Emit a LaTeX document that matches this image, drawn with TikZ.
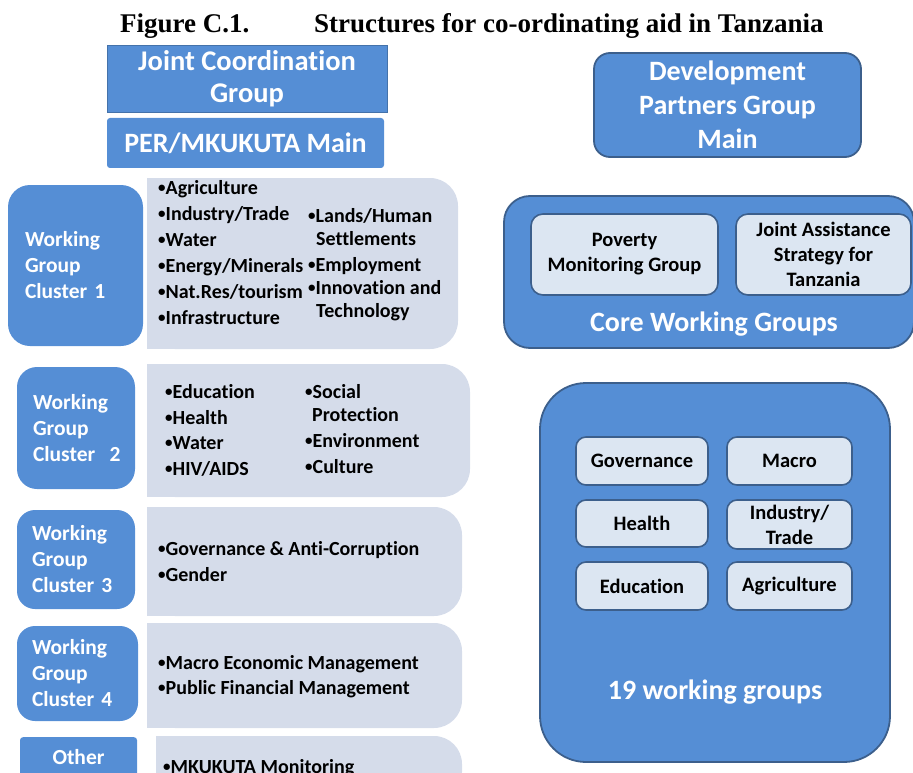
\documentclass[tikz,border=0pt]{standalone}
\usepackage{fontspec}
\setmainfont{Carlito}[Ligatures=NoCommon]
\newfontfamily\titlefont{Liberation Serif}
\newcommand\blt{\raisebox{0.1em}{\scalebox{0.75}{\textbullet}}}
\definecolor{wgblue}{RGB}{85,142,213}
\definecolor{wgedge}{RGB}{60,95,140}
\definecolor{panelgrey}{RGB}{213,220,234}
\definecolor{innerfill}{RGB}{220,230,242}
\tikzset{
  bluebox/.style={fill=wgblue, text=white, align=center, inner sep=0pt},
  clusterbox/.style={bluebox, rounded corners=22pt, align=left,
    font=\bfseries\fontsize{21.5}{26}\selectfont},
  bigbox/.style={bluebox, draw=wgedge, line width=1.8pt},
  smallbox/.style={fill=innerfill, draw=wgedge, line width=1.6pt, rounded corners=10pt,
    align=center, inner sep=0pt, font=\bfseries\fontsize{20.5}{25}\selectfont},
  items/.style={anchor=base west, align=left, inner sep=0pt,
    font=\bfseries\fontsize{20}{26}\selectfont},
}
\begin{document}
\begin{tikzpicture}[x=1pt, y=-1pt]
\useasboundingbox (0,0) rectangle (913,773);
% Titel
\node[anchor=base west, inner sep=0pt, font=\titlefont\bfseries\fontsize{27}{30}\selectfont] (fig) at (120,33) {Figure C.1.};
\node[anchor=base west, inner sep=0pt, font=\titlefont\bfseries\fontsize{27}{30}\selectfont] (caption) at (314,33) {Structures for co-ordinating aid in Tanzania};
% Regering links
\node[bluebox, draw=wgblue!80!black, minimum width=280pt, minimum height=67pt,
  font=\bfseries\fontsize{28.5}{32}\selectfont] (jcg) at (247,78.5) {Joint Coordination\\Group};
\node[bluebox, rounded corners=3pt, minimum width=277pt, minimum height=50pt,
  font=\bfseries\fontsize{28}{32}\selectfont] (per) at (245.5,143) {PER/MKUKUTA Main};
% Panelen
\foreach \xa/\ya/\xb/\yb in {147/178/458/349, 147/364/470/497, 147/507/462/616, 147/623/462/728, 156/736/462/800} {
  \fill[panelgrey, rounded corners=28pt] (\xa,\ya) rectangle (\xb,\yb);
  \fill[panelgrey] (\xa,\ya) rectangle (\xa+40,\yb);
}
% Clusters
\node[clusterbox, minimum width=135pt, minimum height=161pt, text width=101pt] (wg1) at (75.5,265.5) {Working\\Group\\Cluster 1};
\node[clusterbox, rounded corners=20pt, minimum width=118pt, minimum height=122pt, text width=86pt] (wg2) at (76,428) {Working\\Group\\\mbox{Cluster\ \ 2}};
\node[clusterbox, rounded corners=18pt, minimum width=118pt, minimum height=99pt, text width=88pt] (wg3) at (76,559.5) {Working\\Group\\Cluster 3};
\node[clusterbox, rounded corners=18pt, minimum width=121pt, minimum height=95pt, text width=91pt] (wg4) at (77.5,673.5) {Working\\Group\\Cluster 4};
\node[clusterbox, align=center, rounded corners=3pt, minimum width=117pt, minimum height=40pt, anchor=north] (other) at (78.5,737) {Other};
% Werkgroepen per cluster (ankerpunt = basislijn van de laatste regel)
\node[items] (c1a) at (158,324) {\blt Agriculture\\\blt Industry/Trade\\\blt Water\\\blt Energy/Minerals\\\blt Nat.Res/tourism\\\blt Infrastructure};
\node[items, font=\bfseries\fontsize{20}{23}\selectfont] (c1b) at (308,317) {\blt Lands/Human\\\hspace*{8pt}Settlements\\[3pt]\blt Employment\\\blt Innovation and\\\hspace*{8pt}Technology};
\node[items, font=\bfseries\fontsize{20}{25.5}\selectfont] (c2a) at (165,475) {\blt Education\\\blt Health\\\blt Water\\\blt HIV/AIDS};
\node[items, font=\bfseries\fontsize{20}{23}\selectfont] (c2b) at (305,473) {\blt Social\\\hspace*{7pt}Protection\\[3pt]\blt Environment\\[3pt]\blt Culture};
\node[items] (c3) at (158,581) {\blt Governance \& Anti-Corruption\\\blt Gender};
\node[items, font=\bfseries\fontsize{20}{25}\selectfont] (c4) at (158,694) {\blt Macro Economic Management\\\blt Public Financial Management};
\node[items] (c5) at (163,773) {\blt MKUKUTA Monitoring};
% Donoren rechts
\node[bigbox, rounded corners=16pt, minimum width=267pt, minimum height=104pt,
  font=\bfseries\fontsize{28}{34}\selectfont] (dpg) at (727.5,105) {Development\\Partners Group\\Main};
\node[bigbox, rounded corners=26pt, minimum width=410pt, minimum height=152pt] (core) at (709,272) {};
\node[smallbox, rounded corners=12pt, minimum width=187pt, minimum height=81pt] (pmg) at (624.5,254.5) {Poverty\\Monitoring Group};
\node[smallbox, rounded corners=12pt, minimum width=175pt, minimum height=81pt] (jast) at (823.5,254.5) {Joint Assistance\\Strategy for\\Tanzania};
\node[text=white, inner sep=0pt, font=\bfseries\fontsize{28}{32}\selectfont] (corelabel) at (714,324) {Core Working Groups};
\node[bigbox, rounded corners=46pt, minimum width=350pt, minimum height=379pt] (nineteen) at (715,572.5) {};
\node[smallbox, minimum width=132pt, minimum height=48pt] (gov) at (642,461) {Governance};
\node[smallbox, minimum width=125pt, minimum height=48pt] (macro) at (789.5,461) {Macro};
\node[smallbox, minimum width=132pt, minimum height=47pt] (health) at (642,523.5) {Health};
\node[smallbox, minimum width=125pt, minimum height=49pt] (ind) at (789.5,524.5) {Industry/\\Trade};
\node[smallbox, minimum width=132pt, minimum height=48pt] (edu) at (642,586) {Education};
\node[smallbox, minimum width=125pt, minimum height=48pt] (agr) at (789.5,586) {Agriculture};
\node[text=white, inner sep=0pt, font=\bfseries\fontsize{28}{32}\selectfont] (wglabel) at (715,692) {19 working groups};
\end{tikzpicture}
\end{document}
